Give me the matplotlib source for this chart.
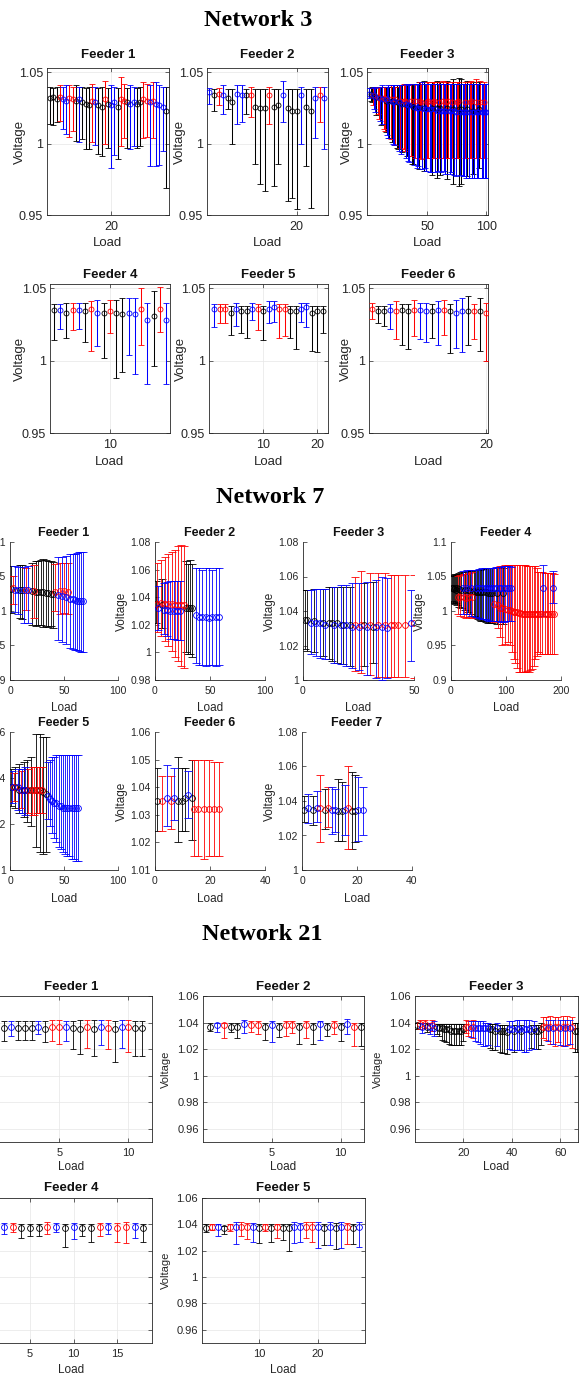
import numpy as np
import matplotlib
matplotlib.use("Agg")
import matplotlib.pyplot as plt
from matplotlib.ticker import FuncFormatter

# ------------------------------------------------------------------ DATA
# Network 3
n3f1_col = "kkkrbbrrkb" "kkkrbkkrkb" "bkrrkbbkkr" "rbrbbbk"
n3f1_mean = [1.032, 1.033, 1.031, 1.033, 1.031, 1.030, 1.032, 1.031, 1.030, 1.031,
             1.029, 1.028, 1.027, 1.030, 1.029, 1.027, 1.026, 1.031, 1.028, 1.027,
             1.029, 1.026, 1.031, 1.030, 1.029, 1.028, 1.029, 1.028, 1.029, 1.031,
             1.030, 1.029, 1.030, 1.028, 1.027, 1.026, 1.023]
n3f1_lo = [1.014, 1.013, 1.015, 1.016, 1.010, 1.007, 1.005, 1.009, 1.002, 1.001,
           1.003, 0.996, 0.996, 1.001, 0.999, 0.993, 0.991, 1.000, 0.997, 0.983,
           0.992, 0.989, 0.998, 1.004, 0.997, 0.996, 0.998, 0.997, 0.998, 1.004,
           1.005, 0.984, 1.004, 0.984, 0.985, 0.995, 0.969]
n3f1_hi = [1.040, 1.039, 1.040, 1.041, 1.040, 1.041, 1.041, 1.040, 1.041, 1.040,
           1.040, 1.039, 1.040, 1.042, 1.040, 1.039, 1.040, 1.044, 1.039, 1.041,
           1.040, 1.039, 1.047, 1.042, 1.039, 1.041, 1.040, 1.039, 1.040, 1.043,
           1.042, 1.041, 1.043, 1.043, 1.041, 1.040, 1.040]

n3f2_col = "bkrbkkbbkr" "kkkrkkbkkk" "bkkbrb"
n3f2_mean = [1.036, 1.034, 1.035, 1.034, 1.032, 1.029, 1.035, 1.034, 1.034, 1.034,
             1.026, 1.025, 1.025, 1.034, 1.026, 1.027, 1.034, 1.025, 1.023, 1.023,
             1.034, 1.026, 1.023, 1.032, 1.034, 1.032]
n3f2_lo = [1.028, 1.023, 1.027, 1.021, 1.024, 1.000, 1.014, 1.015, 1.021, 1.019,
           0.986, 0.972, 0.967, 1.014, 0.970, 0.986, 1.015, 0.960, 0.962, 0.954,
           1.000, 0.984, 0.955, 1.004, 1.015, 0.996]
n3f2_hi = [1.039, 1.038, 1.039, 1.041, 1.038, 1.038, 1.041, 1.041, 1.038, 1.040,
           1.038, 1.038, 1.038, 1.040, 1.038, 1.038, 1.044, 1.038, 1.038, 1.038,
           1.040, 1.038, 1.038, 1.040, 1.040, 1.040]

n3f3_col = ("bkkrbbkrrb" "kbrrkbbkrk" "bbrkkbrbkr" "rbkbbrkkbr" "bbkrrbkbbr"
            "rbbkrrbkbr" "kbrbbrkrbb" "rkbbrrkbkb" "brbkbrrbkb" "rbbkrbbrbb")
n3f3_mean = [1.035, 1.035, 1.034, 1.034, 1.034, 1.033, 1.033, 1.033, 1.032, 1.032,
             1.032, 1.031, 1.032, 1.031, 1.030, 1.031, 1.030, 1.030, 1.031, 1.030,
             1.029, 1.030, 1.031, 1.029, 1.029, 1.029, 1.030, 1.028, 1.028, 1.030,
             1.030, 1.028, 1.027, 1.027, 1.027, 1.030, 1.027, 1.026, 1.026, 1.030,
             1.025, 1.025, 1.026, 1.030, 1.029, 1.025, 1.025, 1.024, 1.024, 1.029,
             1.030, 1.024, 1.024, 1.025, 1.029, 1.030, 1.024, 1.025, 1.023, 1.029,
             1.025, 1.023, 1.030, 1.023, 1.023, 1.029, 1.025, 1.030, 1.023, 1.023,
             1.029, 1.024, 1.023, 1.022, 1.029, 1.030, 1.024, 1.022, 1.024, 1.022,
             1.022, 1.029, 1.022, 1.024, 1.022, 1.029, 1.030, 1.022, 1.023, 1.022,
             1.029, 1.022, 1.022, 1.024, 1.029, 1.022, 1.022, 1.029, 1.022, 1.022]
n3f3_lo = [1.032, 1.030, 1.029, 1.027, 1.024, 1.022, 1.020, 1.021, 1.017, 1.016,
           1.013, 1.014, 1.010, 1.009, 1.008, 1.006, 1.004, 1.004, 1.003, 1.001,
           1.000, 0.999, 0.999, 0.997, 0.996, 0.995, 0.997, 0.993, 0.994, 0.996,
           0.995, 0.990, 0.991, 0.988, 0.987, 0.991, 0.986, 0.986, 0.985, 0.990,
           0.983, 0.984, 0.982, 0.990, 0.989, 0.982, 0.981, 0.983, 0.981, 0.990,
           0.990, 0.980, 0.980, 0.978, 0.990, 0.990, 0.980, 0.976, 0.981, 0.990,
           0.978, 0.980, 0.990, 0.981, 0.979, 0.990, 0.975, 0.990, 0.979, 0.980,
           0.990, 0.972, 0.978, 0.977, 0.990, 0.990, 0.970, 0.978, 0.972, 0.977,
           0.977, 0.990, 0.976, 0.977, 0.976, 0.990, 0.990, 0.976, 0.979, 0.976,
           0.990, 0.976, 0.976, 0.983, 0.990, 0.976, 0.976, 0.990, 0.976, 0.976]
n3f3_hi = [1.039, 1.039, 1.040, 1.039, 1.040, 1.039, 1.040, 1.040, 1.040, 1.040,
           1.040, 1.041, 1.040, 1.040, 1.040, 1.040, 1.041, 1.040, 1.041, 1.040,
           1.041, 1.041, 1.040, 1.041, 1.040, 1.041, 1.041, 1.041, 1.041, 1.042,
           1.042, 1.042, 1.041, 1.041, 1.042, 1.042, 1.042, 1.041, 1.042, 1.042,
           1.042, 1.042, 1.043, 1.043, 1.042, 1.043, 1.044, 1.042, 1.042, 1.043,
           1.043, 1.042, 1.042, 1.043, 1.043, 1.043, 1.042, 1.044, 1.042, 1.043,
           1.043, 1.042, 1.044, 1.042, 1.042, 1.043, 1.044, 1.043, 1.042, 1.042,
           1.043, 1.045, 1.042, 1.042, 1.043, 1.043, 1.046, 1.042, 1.045, 1.042,
           1.042, 1.043, 1.042, 1.044, 1.042, 1.043, 1.044, 1.042, 1.043, 1.042,
           1.045, 1.042, 1.042, 1.043, 1.044, 1.042, 1.042, 1.043, 1.042, 1.042]

n3f4_col = "kbkrbkrbkrkkbbrbkrb"
n3f4_mean = [1.035, 1.035, 1.033, 1.035, 1.035, 1.034, 1.036, 1.033, 1.033, 1.034,
             1.033, 1.032, 1.033, 1.032, 1.036, 1.028, 1.031, 1.036, 1.028]
n3f4_lo = [1.014, 1.022, 1.016, 1.021, 1.022, 1.013, 1.007, 1.010, 1.002, 1.019,
           0.988, 0.992, 1.004, 0.991, 1.011, 0.984, 0.996, 1.020, 0.984]
n3f4_hi = [1.039, 1.039, 1.040, 1.040, 1.040, 1.040, 1.041, 1.042, 1.040, 1.042,
           1.042, 1.043, 1.043, 1.043, 1.050, 1.040, 1.048, 1.051, 1.040]

n3f5_col = "brrkbkkbrkbbrrkkbbkkk"
n3f5_mean = [1.036, 1.036, 1.036, 1.033, 1.036, 1.034, 1.034, 1.036, 1.036, 1.034,
             1.036, 1.037, 1.036, 1.036, 1.034, 1.034, 1.036, 1.037, 1.033, 1.034, 1.034]
n3f5_lo = [1.023, 1.026, 1.026, 1.018, 1.024, 1.019, 1.016, 1.028, 1.021, 1.014,
           1.026, 1.027, 1.016, 1.017, 1.016, 1.008, 1.027, 1.023, 1.007, 1.006, 1.019]
n3f5_hi = [1.039, 1.039, 1.039, 1.038, 1.040, 1.038, 1.038, 1.040, 1.039, 1.038,
           1.041, 1.041, 1.039, 1.039, 1.038, 1.038, 1.040, 1.040, 1.038, 1.038, 1.038]

n3f6_col = "rkkbrkkrbbkbrkbbkrkr"
n3f6_mean = [1.036, 1.034, 1.034, 1.035, 1.034, 1.035, 1.034, 1.035, 1.035, 1.034,
             1.034, 1.035, 1.035, 1.034, 1.033, 1.034, 1.034, 1.034, 1.034, 1.033]
n3f6_lo = [1.029, 1.026, 1.024, 1.022, 1.015, 1.011, 1.008, 1.017, 1.015, 1.013,
           1.016, 1.011, 1.018, 1.005, 1.009, 1.006, 1.011, 1.015, 1.007, 1.000]
n3f6_hi = [1.040, 1.038, 1.038, 1.039, 1.041, 1.039, 1.039, 1.042, 1.040, 1.040,
           1.039, 1.041, 1.042, 1.039, 1.042, 1.043, 1.045, 1.039, 1.043, 1.040]

# Network 7
n7f1_x = [1, 3, 5, 7, 9, 11, 13, 15, 17, 20, 22, 24, 26, 29, 31, 33, 35, 38, 40, 42,
          44, 46, 48, 50, 52, 54, 56, 58, 60, 62, 64, 66, 68]
n7f1_col = "krbbkkbrbk" "rkkkkkkkkr" "brbrbrbbbb" "bbb"
n7f1_mean = [1.032, 1.033, 1.031, 1.030, 1.031, 1.030, 1.030, 1.031, 1.030, 1.029,
             1.029, 1.028, 1.028, 1.027, 1.027, 1.026, 1.026, 1.025, 1.024, 1.028,
             1.023, 1.029, 1.022, 1.029, 1.020, 1.028, 1.018, 1.017, 1.016, 1.015,
             1.015, 1.014, 1.014]
n7f1_lo = [0.997, 1.010, 0.998, 0.996, 0.990, 0.988, 0.982, 1.001, 0.983, 0.980,
           0.990, 0.978, 0.979, 0.980, 0.977, 0.978, 0.977, 0.978, 0.975, 1.000,
           0.958, 0.996, 0.955, 0.997, 0.952, 0.996, 0.946, 0.945, 0.944, 0.943,
           0.942, 0.941, 0.941]
n7f1_hi = [1.065, 1.050, 1.065, 1.064, 1.066, 1.067, 1.064, 1.063, 1.065, 1.070,
           1.066, 1.072, 1.073, 1.074, 1.075, 1.074, 1.073, 1.073, 1.071, 1.068,
           1.078, 1.070, 1.078, 1.070, 1.079, 1.069, 1.082, 1.082, 1.083, 1.084,
           1.085, 1.085, 1.085]

n7f2_x = [1, 2, 3, 5, 6, 8, 9, 11, 12, 14, 15, 17, 18, 20, 21, 23, 24, 26, 28, 30,
          32, 34, 37, 40, 43, 46, 49, 52, 55, 58]
n7f2_col = "krbrkbrbrb" "rbrbrbrrkk" "kkbbbbbbbb"
n7f2_mean = [1.035, 1.035, 1.032, 1.036, 1.034, 1.031, 1.035, 1.031, 1.035, 1.030,
             1.035, 1.030, 1.034, 1.030, 1.034, 1.030, 1.034, 1.034, 1.032, 1.032,
             1.032, 1.032, 1.027, 1.026, 1.026, 1.026, 1.025, 1.026, 1.026, 1.026]
n7f2_lo = [1.021, 1.015, 1.016, 1.012, 1.018, 1.013, 1.008, 1.012, 1.005, 1.010,
           1.001, 1.010, 0.997, 1.009, 0.994, 1.009, 0.990, 0.989, 1.000, 0.999,
           0.999, 0.997, 0.992, 0.991, 0.991, 0.990, 0.991, 0.991, 0.990, 0.991]
n7f2_hi = [1.052, 1.065, 1.048, 1.067, 1.053, 1.050, 1.069, 1.051, 1.071, 1.052,
           1.073, 1.052, 1.074, 1.052, 1.077, 1.052, 1.078, 1.077, 1.066, 1.064,
           1.067, 1.064, 1.061, 1.061, 1.060, 1.061, 1.061, 1.060, 1.061, 1.061]

n7f3_x = [1, 2, 3.5, 5, 6, 7.5, 9, 10, 11.5, 13, 14, 15.5, 17, 18, 19.5, 21, 22, 23.5,
          25, 26, 27.5, 29, 30, 31.5, 33, 34, 35.5, 37, 38, 39.5, 41, 43, 46, 48.5, 50]
n7f3_col = "kkbkbbkbkk" "bkbkbkbrbr" "kbrkbrbrbr" "rrrbr"
n7f3_mean = [1.035, 1.035, 1.033, 1.034, 1.033, 1.033, 1.033, 1.032, 1.033, 1.033,
             1.032, 1.033, 1.032, 1.032, 1.032, 1.032, 1.031, 1.032, 1.031, 1.032,
             1.032, 1.031, 1.032, 1.031, 1.031, 1.032, 1.031, 1.032, 1.030, 1.032,
             1.032, 1.032, 1.032, 1.033, 1.033]
n7f3_lo = [1.018, 1.017, 1.015, 1.016, 1.014, 1.013, 1.014, 1.012, 1.012, 1.011,
           1.010, 1.010, 1.009, 1.009, 1.008, 1.008, 1.007, 1.005, 1.006, 1.004,
           1.008, 1.003, 1.003, 1.010, 1.001, 1.002, 1.000, 1.002, 1.001, 1.002,
           1.002, 1.002, 1.002, 1.011, 1.001]
n7f3_hi = [1.052, 1.052, 1.052, 1.053, 1.053, 1.053, 1.053, 1.053, 1.054, 1.054,
           1.054, 1.054, 1.055, 1.054, 1.055, 1.054, 1.056, 1.060, 1.056, 1.063,
           1.056, 1.057, 1.062, 1.057, 1.058, 1.062, 1.060, 1.062, 1.059, 1.061,
           1.061, 1.061, 1.061, 1.052, 1.061]

n7f4_x = [1, 3, 5, 7, 9, 11, 13, 15, 17, 19, 21, 23, 25, 27, 29, 31, 33, 35, 37, 39,
          41, 43, 45, 47, 49, 51, 53, 55, 57, 59, 61, 63, 65, 67, 69, 71, 73, 75, 77, 79,
          81, 83, 85, 87, 89, 91, 93, 95, 97, 99, 101, 103, 105, 107, 109, 111, 114, 117,
          120, 123, 126, 129, 132, 135, 138, 141, 144, 147, 150, 153, 156, 159, 162, 165,
          168, 171, 174, 177, 180, 183, 186, 188]
n7f4_col = ("kkkkkkrkrk" "brkrbkrkbr" "kkbkkbkkbk" "bkbkbkbkbr" "bkrbrbrkbr"
            "brbrbrrrrr" "rrrrrrrrrr" "rrrrbrrrrr" "br")
n7f4_mean = [1.034, 1.033, 1.032, 1.034, 1.031, 1.033, 1.021, 1.032, 1.020, 1.031,
             1.033, 1.020, 1.030, 1.019, 1.033, 1.030, 1.020, 1.029, 1.033, 1.021,
             1.029, 1.028, 1.033, 1.028, 1.028, 1.033, 1.027, 1.027, 1.033, 1.027,
             1.033, 1.027, 1.033, 1.026, 1.033, 1.026, 1.033, 1.026, 1.033, 1.010,
             1.033, 1.026, 1.008, 1.033, 1.005, 1.033, 1.004, 1.026, 1.033, 1.003,
             1.033, 1.002, 1.033, 1.001, 1.033, 1.000, 0.999, 0.998, 0.998, 0.997,
             0.997, 0.996, 0.996, 0.996, 0.995, 0.995, 0.995, 0.995, 0.995, 0.995,
             0.995, 0.995, 0.995, 0.995, 1.033, 0.995, 0.995, 0.996, 0.996, 0.996,
             1.033, 0.996]
n7f4_lo = [1.014, 1.012, 1.013, 1.010, 1.011, 1.008, 0.995, 1.006, 0.993, 1.005,
           0.996, 0.991, 1.002, 0.990, 0.995, 0.998, 0.992, 0.995, 0.993, 0.990,
           0.993, 0.991, 0.992, 0.990, 0.989, 0.990, 0.987, 0.986, 0.989, 0.985,
           0.988, 0.984, 0.987, 0.983, 0.986, 0.982, 0.986, 0.982, 0.985, 0.984,
           0.985, 0.981, 0.975, 0.985, 0.962, 0.984, 0.950, 0.981, 0.984, 0.952,
           0.985, 0.955, 0.986, 0.950, 0.986, 0.940, 0.930, 0.925, 0.918, 0.912,
           0.911, 0.912, 0.911, 0.912, 0.913, 0.912, 0.914, 0.916, 0.920, 0.930,
           0.935, 0.940, 0.938, 0.937, 0.993, 0.937, 0.937, 0.937, 0.937, 0.937,
           1.012, 0.937]
n7f4_hi = [1.050, 1.052, 1.051, 1.053, 1.052, 1.054, 1.050, 1.055, 1.052, 1.056,
           1.058, 1.053, 1.057, 1.054, 1.059, 1.058, 1.055, 1.058, 1.060, 1.056,
           1.059, 1.059, 1.060, 1.060, 1.060, 1.061, 1.060, 1.061, 1.062, 1.061,
           1.062, 1.062, 1.062, 1.062, 1.063, 1.062, 1.063, 1.063, 1.063, 1.063,
           1.064, 1.063, 1.064, 1.064, 1.065, 1.064, 1.065, 1.063, 1.065, 1.066,
           1.065, 1.066, 1.065, 1.066, 1.064, 1.066, 1.066, 1.066, 1.066, 1.066,
           1.066, 1.066, 1.066, 1.066, 1.065, 1.065, 1.065, 1.065, 1.065, 1.065,
           1.063, 1.057, 1.056, 1.056, 1.066, 1.055, 1.055, 1.055, 1.055, 1.055,
           1.058, 1.054]

n7f5_x = [1, 2, 4, 5, 7, 8, 10, 11, 13, 14, 16, 17, 19, 20, 22, 24, 25, 27, 28, 30,
          31, 33, 35, 37, 39, 41, 43, 45, 47, 49, 51, 53, 55, 57, 59, 61, 63]
n7f5_col = "kbrkbkrbkb" "krkrrkrrkr" "kkbbbbbbbb" "bbbbbbb"
n7f5_mean = [1.036, 1.036, 1.036, 1.036, 1.036, 1.035, 1.035, 1.035, 1.035, 1.035,
             1.035, 1.035, 1.035, 1.035, 1.035, 1.035, 1.035, 1.035, 1.035, 1.035,
             1.034, 1.033, 1.032, 1.031, 1.030, 1.029, 1.029, 1.028, 1.028, 1.027,
             1.027, 1.027, 1.027, 1.027, 1.027, 1.027, 1.027]
n7f5_lo = [1.028, 1.029, 1.030, 1.027, 1.026, 1.025, 1.027, 1.025, 1.023, 1.024,
           1.021, 1.025, 1.019, 1.024, 1.024, 1.010, 1.025, 1.025, 1.008, 1.025,
           1.007, 1.008, 1.022, 1.019, 1.016, 1.014, 1.012, 1.010, 1.009, 1.008,
           1.007, 1.006, 1.006, 1.005, 1.005, 1.004, 1.004]
n7f5_hi = [1.044, 1.043, 1.042, 1.045, 1.044, 1.046, 1.043, 1.044, 1.047, 1.045,
           1.048, 1.044, 1.049, 1.045, 1.045, 1.059, 1.045, 1.045, 1.059, 1.045,
           1.058, 1.058, 1.047, 1.048, 1.049, 1.049, 1.050, 1.050, 1.050, 1.050,
           1.050, 1.050, 1.050, 1.050, 1.050, 1.050, 1.050]

n7f6_x = [0.9, 2.4, 4.2, 5.8, 6.9, 8.5, 9.7, 10.9, 12.1, 13.3, 14.0, 15.8, 17.8, 19.7, 21.5, 23.4]
n7f6_col = "krbrbkkkbkrrrrrr"
n7f6_mean = [1.035, 1.035, 1.036, 1.035, 1.036, 1.035, 1.035, 1.036, 1.037, 1.036,
             1.032, 1.032, 1.032, 1.032, 1.032, 1.032]
n7f6_lo = [1.024, 1.024, 1.026, 1.025, 1.028, 1.020, 1.024, 1.024, 1.029, 1.021,
           1.015, 1.015, 1.014, 1.015, 1.015, 1.015]
n7f6_hi = [1.047, 1.044, 1.048, 1.044, 1.047, 1.051, 1.047, 1.047, 1.046, 1.050,
           1.050, 1.050, 1.050, 1.050, 1.049, 1.049]

n7f7_x = [0.7, 2.3, 4.1, 5.6, 6.5, 8.4, 9.6, 10.8, 12.0, 13.2, 14.4, 15.6, 16.8, 18.1, 19.3, 20.5, 22.3]
n7f7_col = "kbkbrkrbbkkbrkkbb"
n7f7_mean = [1.035, 1.036, 1.035, 1.036, 1.036, 1.035, 1.036, 1.035, 1.035, 1.034,
             1.034, 1.035, 1.036, 1.034, 1.034, 1.035, 1.035]
n7f7_lo = [1.028, 1.027, 1.026, 1.028, 1.016, 1.024, 1.025, 1.021, 1.022, 1.017,
           1.017, 1.020, 1.012, 1.012, 1.016, 1.017, 1.020]
n7f7_hi = [1.043, 1.044, 1.043, 1.046, 1.055, 1.047, 1.048, 1.048, 1.047, 1.053,
           1.051, 1.049, 1.060, 1.057, 1.055, 1.054, 1.048]

# Network 21
n21f1_x = [1, 1.5, 2, 2.5, 3, 3.5, 4, 4.5, 5, 5.5, 6, 6.5, 7, 7.5, 8, 8.5, 9, 9.5, 10, 10.5, 11]
n21f1_col = "kbkkkbkrrbkkrkbrkbrkk"
n21f1_mean = [1.036, 1.037, 1.036, 1.036, 1.036, 1.037, 1.035, 1.037, 1.037, 1.037,
              1.036, 1.035, 1.037, 1.035, 1.037, 1.036, 1.035, 1.037, 1.037, 1.036, 1.036]
n21f1_lo = [1.026, 1.030, 1.027, 1.027, 1.027, 1.031, 1.025, 1.026, 1.024, 1.026,
            1.020, 1.016, 1.021, 1.015, 1.023, 1.020, 1.010, 1.021, 1.018, 1.015, 1.015]
n21f1_hi = [1.041, 1.041, 1.041, 1.041, 1.041, 1.041, 1.041, 1.042, 1.042, 1.041,
            1.041, 1.042, 1.042, 1.042, 1.042, 1.042, 1.041, 1.042, 1.042, 1.041, 1.041]

n21f2_x = [0.5, 1, 1.5, 2, 2.5, 3, 3.5, 4, 4.5, 5, 5.5, 6, 6.5, 7, 7.5, 8, 8.5, 9,
           9.5, 10, 10.5, 11, 11.5]
n21f2_col = "kbrkkbrrkbkrrkrkbkrkbrk"
n21f2_mean = [1.037, 1.038, 1.038, 1.037, 1.037, 1.039, 1.038, 1.038, 1.037, 1.038,
              1.037, 1.038, 1.038, 1.037, 1.038, 1.037, 1.039, 1.037, 1.038, 1.037,
              1.039, 1.037, 1.037]
n21f2_lo = [1.034, 1.033, 1.028, 1.033, 1.028, 1.032, 1.033, 1.031, 1.027, 1.025,
            1.029, 1.030, 1.032, 1.024, 1.028, 1.024, 1.027, 1.030, 1.031, 1.026,
            1.031, 1.022, 1.022]
n21f2_hi = [1.040, 1.040, 1.040, 1.040, 1.040, 1.042, 1.041, 1.041, 1.040, 1.041,
            1.040, 1.041, 1.041, 1.040, 1.041, 1.040, 1.041, 1.040, 1.041, 1.040,
            1.043, 1.040, 1.040]

n21f3_col = "krbrkbrbkk" "kkkkkkkkkk" "rrbrbbbbbb" "kkkbkkkkbb" "kbbkbbbkbk" "kkrrbrbrrb" "rbrbrkk"
n21f3_mean = [1.038, 1.039, 1.037, 1.039, 1.037, 1.037, 1.038, 1.036, 1.037, 1.036,
              1.036, 1.035, 1.035, 1.035, 1.034, 1.034, 1.034, 1.034, 1.034, 1.035,
              1.037, 1.037, 1.036, 1.037, 1.036, 1.036, 1.036, 1.036, 1.036, 1.036,
              1.035, 1.035, 1.034, 1.036, 1.034, 1.034, 1.034, 1.033, 1.035, 1.035,
              1.034, 1.035, 1.035, 1.034, 1.035, 1.035, 1.035, 1.034, 1.035, 1.034,
              1.034, 1.035, 1.037, 1.037, 1.036, 1.037, 1.036, 1.037, 1.037, 1.036,
              1.037, 1.036, 1.037, 1.036, 1.037, 1.034, 1.034]
n21f3_lo = [1.035, 1.035, 1.032, 1.036, 1.033, 1.031, 1.034, 1.030, 1.031, 1.030,
            1.027, 1.026, 1.025, 1.024, 1.023, 1.023, 1.023, 1.023, 1.023, 1.026,
            1.032, 1.030, 1.029, 1.028, 1.026, 1.025, 1.024, 1.022, 1.022, 1.023,
            1.021, 1.019, 1.019, 1.022, 1.018, 1.017, 1.017, 1.016, 1.020, 1.019,
            1.018, 1.019, 1.019, 1.019, 1.018, 1.018, 1.019, 1.021, 1.020, 1.020,
            1.020, 1.023, 1.028, 1.027, 1.026, 1.024, 1.024, 1.022, 1.025, 1.023,
            1.022, 1.022, 1.023, 1.024, 1.021, 1.018, 1.018]
n21f3_hi = [1.040, 1.042, 1.040, 1.042, 1.040, 1.040, 1.042, 1.041, 1.039, 1.039,
            1.039, 1.039, 1.039, 1.039, 1.039, 1.039, 1.039, 1.039, 1.039, 1.039,
            1.042, 1.041, 1.041, 1.042, 1.041, 1.041, 1.041, 1.041, 1.040, 1.040,
            1.039, 1.039, 1.039, 1.040, 1.038, 1.038, 1.038, 1.038, 1.041, 1.041,
            1.038, 1.042, 1.042, 1.038, 1.042, 1.042, 1.042, 1.038, 1.041, 1.038,
            1.038, 1.040, 1.044, 1.044, 1.042, 1.045, 1.042, 1.044, 1.044, 1.042,
            1.045, 1.042, 1.045, 1.042, 1.044, 1.040, 1.040]

n21f4_col = "kbrkkkrbkbkkrbrrbk"
n21f4_mean = [1.038, 1.038, 1.038, 1.037, 1.037, 1.037, 1.038, 1.038, 1.037, 1.038,
              1.037, 1.037, 1.038, 1.038, 1.037, 1.038, 1.038, 1.037]
n21f4_lo = [1.030, 1.033, 1.034, 1.030, 1.031, 1.031, 1.033, 1.034, 1.023, 1.029,
            1.031, 1.027, 1.031, 1.033, 1.027, 1.026, 1.030, 1.027]
n21f4_hi = [1.041, 1.041, 1.041, 1.040, 1.040, 1.040, 1.042, 1.041, 1.040, 1.041,
            1.040, 1.040, 1.041, 1.041, 1.041, 1.042, 1.041, 1.040]

n21f5_col = "krbkrbrrbkrkrkkbbrrbkbkbrkb"
n21f5_mean = [1.037, 1.038, 1.038, 1.037, 1.038, 1.038, 1.038, 1.038, 1.038, 1.037,
              1.038, 1.037, 1.038, 1.037, 1.037, 1.038, 1.038, 1.038, 1.038, 1.038,
              1.037, 1.038, 1.037, 1.038, 1.038, 1.037, 1.038]
n21f5_lo = [1.034, 1.036, 1.031, 1.033, 1.035, 1.025, 1.031, 1.029, 1.027, 1.026,
            1.035, 1.027, 1.030, 1.028, 1.020, 1.026, 1.027, 1.030, 1.027, 1.022,
            1.024, 1.024, 1.021, 1.022, 1.025, 1.025, 1.023]
n21f5_hi = [1.040, 1.040, 1.040, 1.039, 1.040, 1.042, 1.042, 1.041, 1.041, 1.040,
            1.040, 1.040, 1.040, 1.040, 1.040, 1.042, 1.041, 1.042, 1.042, 1.042,
            1.040, 1.042, 1.041, 1.042, 1.041, 1.040, 1.042]

# ------------------------------------------------------------------ FIGURE
W, H = 582, 1377
plt.rcParams['font.family'] = ['Liberation Sans', 'DejaVu Sans']
fig = plt.figure(figsize=(W / 100, H / 100), dpi=100)
fig.patch.set_facecolor('white')

COLORS = {'k': '#000000', 'r': '#ff0000', 'b': '#0000ff'}
AXC = '#262626'


def px_axes(l, t, r, b):
    return fig.add_axes([l / W, 1 - b / H, (r - l) / W, (b - t) / H])


def px_text(x, y, s, **kw):
    fig.text(x / W, 1 - y / H, s, ha='center', va='center', **kw)


gfmt = FuncFormatter(lambda v, p: f'{v:g}')


def panel(rect, x, mean, lo, hi, col, xlim, ylim, xticks, yticks, title,
          box, grid, sty, title_y, load_y, volt_x):
    l, t, r, b = rect
    ax = px_axes(l, t, r, b)
    mean = np.asarray(mean, float)
    lo = np.asarray(lo, float)
    hi = np.asarray(hi, float)
    if x is None:
        x = np.arange(1, len(mean) + 1)
    x = np.asarray(x, float)
    for c in 'krb':
        idx = np.array([i for i, ch in enumerate(col) if ch == c], int)
        if idx.size == 0:
            continue
        m = mean[idx]
        ax.errorbar(x[idx], m,
                    yerr=[np.maximum(m - lo[idx], 0), np.maximum(hi[idx] - m, 0)],
                    fmt='o', mfc='none', mec=COLORS[c], ecolor=COLORS[c],
                    ms=sty['ms'], mew=0.6, elinewidth=sty['lw'], capsize=sty['cap'],
                    capthick=sty['lw'], zorder=3)
    ax.set_xlim(xlim)
    ax.set_ylim(ylim)
    ax.set_xticks(xticks)
    ax.set_yticks(yticks)
    ax.xaxis.set_major_formatter(gfmt)
    ax.yaxis.set_major_formatter(gfmt)
    ax.tick_params(direction='in', length=3, width=0.5, colors=AXC,
                   labelsize=sty['tick'])
    ax.tick_params(axis='x', pad=sty['xpad'])
    ax.tick_params(axis='y', pad=sty['ypad'])
    for sp in ax.spines.values():
        sp.set_color(AXC)
        sp.set_linewidth(0.6)
    if box:
        ax.tick_params(top=True, right=True)
    else:
        ax.spines['top'].set_visible(False)
        ax.spines['right'].set_visible(False)
    if grid:
        ax.grid(True, color='#e6e6e6', lw=0.5)
        ax.set_axisbelow(True)
    cx = (l + r) / 2
    px_text(cx, title_y, title, fontsize=sty['title'], fontweight='bold', color='#111111')
    px_text(cx, load_y, 'Load', fontsize=sty['label'], color=AXC)
    if volt_x is not None:
        px_text(volt_x, (t + b) / 2, 'Voltage', fontsize=sty['vlabel'], rotation=90, color=AXC)
    return ax


sty3 = dict(ms=3.6, cap=2.3, lw=0.75, tick=9, label=9.5, vlabel=9.5, title=9.5, xpad=4.3, ypad=3)
sty7 = dict(ms=4.2, cap=2.8, lw=0.6, tick=7.5, label=8.5, vlabel=8.5, title=9, xpad=4.5, ypad=3)
sty21 = dict(ms=4.2, cap=2.0, lw=0.6, tick=8, label=8.5, vlabel=8, title=9.5, xpad=4.2, ypad=3)

SERIF = ['Liberation Serif', 'DejaVu Serif']
TITLE_FS = 17.5

# ---- Network 3
px_text(258, 20, 'Network 3', fontsize=TITLE_FS, fontweight='bold', family=SERIF)
y3 = [0.95, 1.0, 1.05]
yl3 = (0.95, 1.053)
panel((47, 68, 169, 215), None, n3f1_mean, n3f1_lo, n3f1_hi, n3f1_col, (0, 38), yl3, [20], y3,
      'Feeder 1', True, True, sty3, 55, 243, 20)
panel((207, 68, 328, 215), None, n3f2_mean, n3f2_lo, n3f2_hi, n3f2_col, (0.5, 26.8), yl3, [20], y3,
      'Feeder 2', True, True, sty3, 55, 243, 180)
panel((367, 68, 488, 215), None, n3f3_mean, n3f3_lo, n3f3_hi, n3f3_col, (-1, 101.5), yl3, [50, 100], y3,
      'Feeder 3', True, True, sty3, 55, 243, 347)
panel((50, 284, 170, 433), None, n3f4_mean, n3f4_lo, n3f4_hi, n3f4_col, (0.4, 19.6), yl3, [10], y3,
      'Feeder 4', True, True, sty3, 275, 462, 20)
panel((209, 284, 328, 433), None, n3f5_mean, n3f5_lo, n3f5_hi, n3f5_col, (0, 22), yl3, [10, 20], y3,
      'Feeder 5', True, True, sty3, 275, 462, 181)
panel((369, 284, 488, 433), None, n3f6_mean, n3f6_lo, n3f6_hi, n3f6_col, (0.55, 20.35), yl3, [20], y3,
      'Feeder 6', True, True, sty3, 275, 462, 346)

# ---- Network 7
px_text(270, 497, 'Network 7', fontsize=TITLE_FS, fontweight='bold', family=SERIF)
panel((10, 542, 118, 680), n7f1_x, n7f1_mean, n7f1_lo, n7f1_hi, n7f1_col, (0, 100), (0.9, 1.1),
      [0, 50, 100], [0.9, 0.95, 1.0, 1.05, 1.1], 'Feeder 1', False, False, sty7, 533, 708, None)
panel((155, 542, 265, 680), n7f2_x, n7f2_mean, n7f2_lo, n7f2_hi, n7f2_col, (0, 100), (0.98, 1.08),
      [0, 50, 100], [0.98, 1.0, 1.02, 1.04, 1.06, 1.08], 'Feeder 2', False, False, sty7, 533, 708, 122)
panel((303, 542, 414, 680), n7f3_x, n7f3_mean, n7f3_lo, n7f3_hi, n7f3_col, (0, 50), (1.0, 1.08),
      [0, 50], [1.0, 1.02, 1.04, 1.06, 1.08], 'Feeder 3', False, False, sty7, 533, 708, 270)
panel((451, 542, 561, 680), n7f4_x, n7f4_mean, n7f4_lo, n7f4_hi, n7f4_col, (0, 200), (0.9, 1.1),
      [0, 100, 200], [0.9, 0.95, 1.0, 1.05, 1.1], 'Feeder 4', False, False, sty7, 533, 708, 420)
panel((10, 732, 118, 870), n7f5_x, n7f5_mean, n7f5_lo, n7f5_hi, n7f5_col, (0, 100), (1.0, 1.06),
      [0, 50, 100], [1.0, 1.02, 1.04, 1.06], 'Feeder 5', False, False, sty7, 723, 899, None)
panel((155, 732, 265, 870), n7f6_x, n7f6_mean, n7f6_lo, n7f6_hi, n7f6_col, (0, 40), (1.01, 1.06),
      [0, 20, 40], [1.01, 1.02, 1.03, 1.04, 1.05, 1.06], 'Feeder 6', False, False, sty7, 723, 899, 122)
panel((302, 732, 412, 870), n7f7_x, n7f7_mean, n7f7_lo, n7f7_hi, n7f7_col, (0, 40), (1.0, 1.08),
      [0, 20, 40], [1.0, 1.02, 1.04, 1.06, 1.08], 'Feeder 7', False, False, sty7, 723, 899, 270)

# ---- Network 21
px_text(262, 935, 'Network 21', fontsize=TITLE_FS, fontweight='bold', family=SERIF)
y21 = [0.96, 0.98, 1.0, 1.02, 1.04, 1.06]
yl21 = (0.95, 1.06)
panel((-10, 996, 152, 1142), n21f1_x, n21f1_mean, n21f1_lo, n21f1_hi, n21f1_col, (0, 11.7), yl21,
      [5, 10], y21, 'Feeder 1', True, True, sty21, 987, 1167, None)
panel((203, 996, 364, 1142), n21f2_x, n21f2_mean, n21f2_lo, n21f2_hi, n21f2_col, (0, 11.7), yl21,
      [5, 10], y21, 'Feeder 2', True, True, sty21, 987, 1167, 166)
panel((415, 996, 578, 1142), None, n21f3_mean, n21f3_lo, n21f3_hi, n21f3_col, (0, 67.4), yl21,
      [20, 40, 60], y21, 'Feeder 3', True, True, sty21, 987, 1167, 378)
panel((-10, 1198, 152, 1343), None, n21f4_mean, n21f4_lo, n21f4_hi, n21f4_col, (0.4, 19), yl21,
      [5, 10, 15], y21, 'Feeder 4', True, True, sty21, 1188, 1370, None)
panel((202, 1198, 365, 1343), None, n21f5_mean, n21f5_lo, n21f5_hi, n21f5_col, (0.3, 28), yl21,
      [10, 20], y21, 'Feeder 5', True, True, sty21, 1188, 1370, 166)

fig.savefig('out.png', dpi=100, facecolor='white')
